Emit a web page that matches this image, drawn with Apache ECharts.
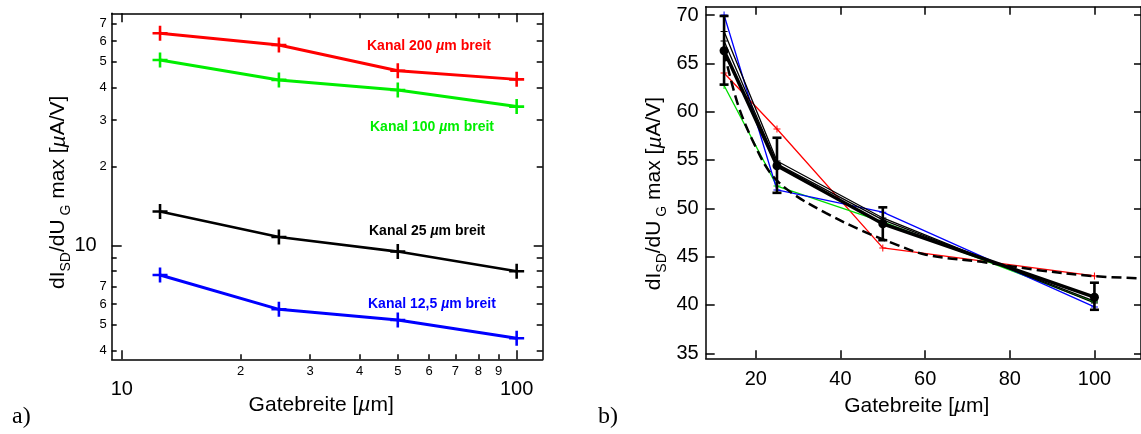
<!DOCTYPE html>
<html><head><meta charset="utf-8">
<script src="https://cdn.jsdelivr.net/npm/echarts@6/dist/echarts.min.js"></script>
<style>html,body{margin:0;padding:0;background:#fff}#c{width:1141px;height:434px}</style>
</head><body><div id="c"></div>
<script>
// ---------- data ----------
const gateWidths = [12.5, 25, 50, 100];
// a) absolute values (log-log)
const kanal200 = [64.2, 58.0, 46.3, 42.9];
const kanal100 = [50.8, 42.7, 39.1, 33.8];
const kanal25 = [13.5, 10.8, 9.5, 8.0];
const kanal12_5 = [7.74, 5.73, 5.22, 4.45];
// b) normalised curves
const normRed = [64.0, 58.2, 45.9, 43.0];
const normGreen = [62.7, 52.3, 48.6, 40.3];
const normBlue = [70.0, 51.9, 49.6, 39.8];
const normBlack1 = [68.3, 54.9, 49.0, 40.2];
const normBlack2 = [67.3, 54.6, 48.8, 40.4];
const meanValues = [66.3, 54.4, 48.4, 40.8];
const errLow = [62.8, 51.6, 46.7, 39.5];
const errHigh = [69.9, 57.3, 50.1, 42.3];
const fitX = [12.5, 15.8, 19.8, 23.7, 28.8, 36.6, 44.5, 52.3, 60.2, 74.3, 86.8, 99.4, 111];
const fitY = [66.2, 60.7, 56.5, 53.5, 51.5, 49.5, 47.8, 46.4, 45.2, 44.4, 43.6, 43.0, 42.75];
// tick values
const logXMinor = [20, 30, 40, 50, 60, 70, 80, 90];
const logXMajor = [10, 100];
const logYMinor = [4, 5, 6, 7, 8, 9, 20, 30, 40, 50, 60, 70];
const logYMinorLabels = [4, 5, 6, 7, 20, 30, 40, 50, 60, 70];
const logYMajor = [10];
const linX = [20, 40, 60, 80, 100];
const linY = [35, 40, 45, 50, 55, 60, 65, 70];
const labelA = ['Kanal 200 ', 'Kanal 100 ', 'Kanal 25 ', 'Kanal 12,5 '];

// ---------- helpers ----------
const FONT = "'Liberation Sans', Arial, Helvetica, sans-serif";
const pair = (xs, ys) => xs.map((x, i) => [x, ys[i]]);
const PLUS = 'path://M-1.2,-7H1.2V-1.2H7V1.2H1.2V7H-1.2V1.2H-7V-1.2H-1.2Z';
const PLUS_THIN = 'path://M-1,-7H1V-1H7V1H1V7H-1V1H-7V-1H-1Z';
const LX = {min: 9.43, max: 116.4};
const LY = {min: 3.70, max: 76.5};
const RX = {min: 8.16, max: 111};
const RY = {min: 34.48, max: 70.86};
const lineStyle = {show: true, onZero: false, lineStyle: {color: '#000', width: 1.5}};
function ticks(vals, len) {
  return {show: true, inside: true, length: len, customValues: vals, lineStyle: {color: '#000', width: 1.5}};
}
function labels(vals, size, margin, fmt) {
  const o = {show: true, customValues: vals, fontSize: size, color: '#000', fontFamily: FONT, margin: margin};
  if (fmt) o.formatter = fmt;
  return o;
}
const noLabel = {show: false};
const minorFmt = v => { const r = Math.round(v); return String(r < 10 ? r : r / 10); };

const nameRichX = {
  n: {fontSize: 21, fontFamily: FONT, color: '#000'},
  i: {fontSize: 21, fontFamily: FONT, fontStyle: 'italic', color: '#000'}
};
const nameRichY = {
  n: {fontSize: 21, fontFamily: FONT, color: '#000', lineHeight: 28},
  i: {fontSize: 21, fontFamily: FONT, fontStyle: 'italic', color: '#000', lineHeight: 28},
  s: {fontSize: 14, fontFamily: FONT, color: '#000', lineHeight: 14, verticalAlign: 'bottom'}
};
const yName = '{n|dI}{s|SD}{n|/dU}{s| G}{n| max [}{i|µ}{n|A/V]}';
const xName = '{n|Gatebreite [}{i|µ}{n|m]}';

const option = {
  animation: false,
  backgroundColor: '#fff',
  textStyle: {fontFamily: FONT},
  grid: [
    {left: 111.7, top: 13.3, width: 431, height: 346},
    {left: 705.7, top: 6.7, width: 436.7, height: 351.6}
  ],
  xAxis: [
    {gridIndex: 0, type: 'log', min: LX.min, max: LX.max, position: 'bottom',
     axisLine: lineStyle, axisTick: ticks(logXMinor, 5), axisLabel: labels(logXMinor, 13, 6, minorFmt), splitLine: {show: false},
     name: xName, nameLocation: 'middle', nameGap: 35, nameTextStyle: {rich: nameRichX, padding: [0, 12, 0, 0]}},
    {gridIndex: 0, type: 'log', min: LX.min, max: LX.max, position: 'bottom',
     axisLine: {show: false}, axisTick: ticks(logXMajor, 9), axisLabel: labels(logXMajor, 20, 20), splitLine: {show: false}},
    {gridIndex: 0, type: 'log', min: LX.min, max: LX.max, position: 'top',
     axisLine: lineStyle, axisTick: ticks(logXMinor, 5), axisLabel: noLabel, splitLine: {show: false}},
    {gridIndex: 0, type: 'log', min: LX.min, max: LX.max, position: 'top',
     axisLine: {show: false}, axisTick: ticks(logXMajor, 9), axisLabel: noLabel, splitLine: {show: false}},
    {gridIndex: 1, type: 'value', min: RX.min, max: RX.max, position: 'bottom',
     axisLine: lineStyle, axisTick: ticks(linX, 8), axisLabel: labels(linX, 20, 11), splitLine: {show: false},
     name: xName, nameLocation: 'middle', nameGap: 37, nameTextStyle: {rich: nameRichX, padding: [0, 13, 0, 0]}},
    {gridIndex: 1, type: 'value', min: RX.min, max: RX.max, position: 'top',
     axisLine: lineStyle, axisTick: ticks(linX, 8), axisLabel: noLabel, splitLine: {show: false}}
  ],
  yAxis: [
    {gridIndex: 0, type: 'log', min: LY.min, max: LY.max, position: 'left',
     axisLine: lineStyle, axisTick: ticks(logYMinor, 5), axisLabel: labels(logYMinorLabels, 13, 5, minorFmt), splitLine: {show: false},
     name: yName, nameLocation: 'middle', nameGap: 39, nameTextStyle: {rich: nameRichY, padding: [0, 12, 0, 0]}},
    {gridIndex: 0, type: 'log', min: LY.min, max: LY.max, position: 'left',
     axisLine: {show: false}, axisTick: ticks(logYMajor, 10), axisLabel: labels(logYMajor, 20, 15), splitLine: {show: false}},
    {gridIndex: 0, type: 'log', min: LY.min, max: LY.max, position: 'right',
     axisLine: lineStyle, axisTick: ticks(logYMinor, 6), axisLabel: noLabel, splitLine: {show: false}},
    {gridIndex: 0, type: 'log', min: LY.min, max: LY.max, position: 'right',
     axisLine: {show: false}, axisTick: ticks(logYMajor, 9), axisLabel: noLabel, splitLine: {show: false}},
    {gridIndex: 1, type: 'value', min: RY.min, max: RY.max, position: 'left',
     axisLine: lineStyle, axisTick: ticks(linY, 9), axisLabel: labels(linY, 20, 7), splitLine: {show: false},
     name: yName, nameLocation: 'middle', nameGap: 37, nameTextStyle: {rich: nameRichY, padding: [0, 22, 0, 0]}},
    {gridIndex: 1, type: 'value', min: RY.min, max: RY.max, position: 'right',
     axisLine: lineStyle, axisTick: ticks(linY, 7), axisLabel: noLabel, splitLine: {show: false}}
  ],
  series: [],
  graphic: []
};

// ---- a) series ----
const leftSeries = [
  {data: kanal200, color: '#ff0000', w: 3},
  {data: kanal100, color: '#00ee00', w: 3},
  {data: kanal25, color: '#000000', w: 2.6},
  {data: kanal12_5, color: '#0000ff', w: 3}
];
leftSeries.forEach(s => {
  option.series.push({
    type: 'line', xAxisIndex: 0, yAxisIndex: 0, data: pair(gateWidths, s.data),
    symbol: PLUS, symbolSize: 15, showAllSymbol: true,
    itemStyle: {color: s.color}, lineStyle: {color: s.color, width: s.w}, z: 3
  });
});

// ---- b) series ----
const thin = [
  {data: normRed, color: '#ff0000'},
  {data: normGreen, color: '#00dd00'},
  {data: normBlue, color: '#0000ff'},
  {data: normBlack1, color: '#000000'},
  {data: normBlack2, color: '#000000'}
];
thin.forEach(s => {
  option.series.push({
    type: 'line', xAxisIndex: 4, yAxisIndex: 4, data: pair(gateWidths, s.data),
    symbol: PLUS_THIN, symbolSize: 7, showAllSymbol: true,
    itemStyle: {color: s.color}, lineStyle: {color: s.color, width: 1.3}, z: 2
  });
});
option.series.push({
  type: 'line', xAxisIndex: 4, yAxisIndex: 4, data: pair(fitX, fitY), smooth: 0.35, showSymbol: false,
  lineStyle: {color: '#000', width: 2.5, type: [10, 5]}, z: 3
});
option.series.push({
  type: 'custom', xAxisIndex: 4, yAxisIndex: 4, z: 4,
  data: gateWidths.map((x, i) => [x, errLow[i], errHigh[i]]),
  renderItem: function (params, api) {
    const x = api.value(0);
    const lo = api.coord([x, api.value(1)]);
    const hi = api.coord([x, api.value(2)]);
    const w = 4.5;
    const st = {stroke: '#000', lineWidth: 2.6, fill: null};
    return {type: 'group', children: [
      {type: 'line', shape: {x1: lo[0], y1: lo[1], x2: hi[0], y2: hi[1]}, style: st},
      {type: 'line', shape: {x1: lo[0] - w, y1: lo[1], x2: lo[0] + w, y2: lo[1]}, style: st},
      {type: 'line', shape: {x1: hi[0] - w, y1: hi[1], x2: hi[0] + w, y2: hi[1]}, style: st}
    ]};
  }
});
option.series.push({
  type: 'line', xAxisIndex: 4, yAxisIndex: 4, data: pair(gateWidths, meanValues),
  symbol: 'circle', symbolSize: 9, itemStyle: {color: '#000'}, lineStyle: {color: '#000', width: 3.5}, z: 5
});

// ---- annotations ----
const annot = [
  {t: labelA[0], color: '#ff0000', x: 367, y: 46},
  {t: labelA[1], color: '#00ee00', x: 370, y: 127},
  {t: labelA[2], color: '#000000', x: 369, y: 231},
  {t: labelA[3], color: '#0000ff', x: 368, y: 304}
];
annot.forEach(a => {
  option.graphic.push({
    type: 'text', x: a.x, y: a.y, z: 10,
    style: {
      text: '{b|' + a.t + '}{i|µ}{b|m breit}',
      verticalAlign: 'middle', align: 'left',
      rich: {
        b: {fontSize: 14, fontWeight: 'bold', fontFamily: FONT, fill: a.color, color: a.color},
        i: {fontSize: 14, fontWeight: 'bold', fontStyle: 'italic', fontFamily: FONT, fill: a.color, color: a.color}
      }
    }
  });
});
option.graphic.push({type: 'text', x: 12, y: 417, style: {text: 'a)', font: "24px 'Liberation Serif', 'Times New Roman', serif", fill: '#000', verticalAlign: 'middle'}});
option.graphic.push({type: 'text', x: 598, y: 417, style: {text: 'b)', font: "24px 'Liberation Serif', 'Times New Roman', serif", fill: '#000', verticalAlign: 'middle'}});

const chart = echarts.init(document.getElementById('c'), null, {renderer: 'canvas'});
chart.setOption(option);
</script>
</body></html>
